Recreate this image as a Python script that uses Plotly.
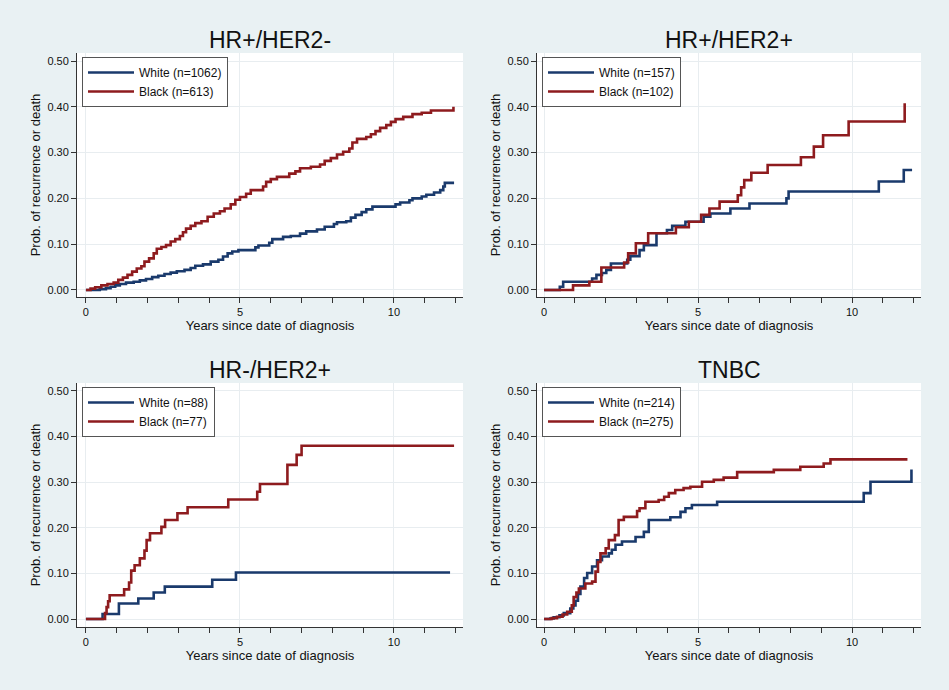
import plotly.graph_objects as go

# ---------------- data (years since diagnosis, cumulative probability) ----------------
panel_titles = ["HR+/HER2-", "HR+/HER2+", "HR-/HER2+", "TNBC"]
white_labels = ["White (n=1062)", "White (n=157)", "White (n=88)", "White (n=214)"]
black_labels = ["Black (n=613)", "Black (n=102)", "Black (n=77)", "Black (n=275)"]

# HR+/HER2-
p1_white_t = [0, 0.45, 0.65, 0.8, 0.95, 1.1, 1.3, 1.55, 1.75, 1.95, 2.15, 2.35, 2.55, 2.75, 2.95,
              3.2, 3.4, 3.55, 3.8, 4.05, 4.3, 4.45, 4.6, 4.75, 4.95, 5.5, 5.6, 5.95, 6.05, 6.4,
              6.65, 6.95, 7.15, 7.5, 7.75, 8.05, 8.15, 8.45, 8.6, 8.75, 8.95, 9.1, 9.3, 10.05,
              10.2, 10.5, 10.6, 10.9, 11.05, 11.3, 11.5, 11.6, 11.65, 11.95]
p1_white_v = [0, 0.002, 0.004, 0.007, 0.010, 0.013, 0.016, 0.018, 0.021, 0.024, 0.028, 0.031, 0.035,
              0.038, 0.041, 0.044, 0.048, 0.053, 0.056, 0.062, 0.066, 0.073, 0.080, 0.084, 0.087,
              0.093, 0.097, 0.103, 0.111, 0.116, 0.118, 0.123, 0.128, 0.132, 0.138, 0.144, 0.148,
              0.150, 0.158, 0.164, 0.170, 0.176, 0.182, 0.187, 0.191, 0.196, 0.200, 0.204, 0.208,
              0.213, 0.218, 0.226, 0.234, 0.234]
p1_black_t = [0, 0.15, 0.3, 0.5, 0.7, 0.9, 1.05, 1.2, 1.35, 1.5, 1.65, 1.8, 1.9, 2.05, 2.2, 2.3,
              2.45, 2.6, 2.75, 2.9, 3.05, 3.15, 3.25, 3.4, 3.55, 3.75, 3.95, 4.15, 4.35, 4.5, 4.7,
              4.85, 5.0, 5.2, 5.35, 5.75, 5.85, 6.0, 6.2, 6.6, 6.8, 6.95, 7.3, 7.6, 7.75, 7.95,
              8.15, 8.35, 8.55, 8.65, 8.8, 9.1, 9.25, 9.4, 9.55, 9.75, 9.9, 10.05, 10.3, 10.6,
              10.9, 11.2, 11.93]
p1_black_v = [0, 0.003, 0.006, 0.010, 0.013, 0.016, 0.022, 0.027, 0.033, 0.040, 0.047, 0.052, 0.062,
              0.069, 0.080, 0.090, 0.094, 0.098, 0.106, 0.111, 0.118, 0.126, 0.134, 0.140, 0.146,
              0.150, 0.160, 0.167, 0.172, 0.178, 0.187, 0.197, 0.203, 0.210, 0.218, 0.226, 0.236,
              0.242, 0.247, 0.254, 0.259, 0.266, 0.269, 0.274, 0.282, 0.288, 0.296, 0.302, 0.309,
              0.322, 0.330, 0.334, 0.340, 0.347, 0.354, 0.360, 0.367, 0.373, 0.378, 0.384, 0.387,
              0.392, 0.400]

# HR+/HER2+
p2_white_t = [0, 0.51, 0.62, 1.56, 1.7, 1.88, 2.02, 2.17, 2.7, 2.8, 3.1, 3.24, 3.65, 3.99, 4.16,
              4.59, 5.18, 5.4, 6.05, 6.67, 7.87, 7.94, 10.87, 11.68, 11.95]
p2_white_v = [0, 0.007, 0.018, 0.025, 0.033, 0.037, 0.044, 0.058, 0.066, 0.074, 0.087, 0.098,
              0.124, 0.131, 0.140, 0.149, 0.160, 0.167, 0.178, 0.189, 0.200, 0.215, 0.237, 0.262,
              0.262]
p2_black_t = [0, 0.94, 1.47, 1.86, 2.6, 2.73, 2.98, 3.38, 4.28, 4.7, 5.1, 5.37, 5.7, 6.29, 6.4,
              6.5, 6.73, 7.26, 8.34, 8.76, 9.06, 9.89, 11.71]
p2_black_v = [0, 0.010, 0.018, 0.049, 0.060, 0.080, 0.102, 0.124, 0.137, 0.149, 0.164, 0.178,
              0.193, 0.207, 0.224, 0.240, 0.256, 0.273, 0.290, 0.313, 0.338, 0.368, 0.408]

# HR-/HER2+
p3_white_t = [0, 0.54, 1.07, 1.7, 2.2, 2.56, 4.1, 4.87, 11.82]
p3_white_v = [0, 0.011, 0.034, 0.045, 0.058, 0.071, 0.086, 0.102, 0.102]
p3_black_t = [0, 0.62, 0.67, 0.72, 0.77, 1.24, 1.4, 1.47, 1.58, 1.75, 1.9, 1.97, 2.08, 2.45,
              2.57, 2.97, 3.3, 4.62, 5.56, 5.65, 6.54, 6.84, 7.0, 11.95]
p3_black_v = [0, 0.013, 0.026, 0.039, 0.052, 0.065, 0.080, 0.106, 0.118, 0.133, 0.150, 0.173,
              0.188, 0.202, 0.217, 0.232, 0.245, 0.262, 0.279, 0.296, 0.338, 0.360, 0.380, 0.380]

# TNBC
p4_white_t = [0, 0.2, 0.31, 0.5, 0.64, 0.85, 0.95, 1.02, 1.1, 1.18, 1.3, 1.4, 1.56, 1.72, 1.88,
              2.1, 2.2, 2.32, 2.53, 2.97, 3.24, 3.4, 4.1, 4.43, 4.59, 4.8, 5.62, 10.38, 10.6, 11.93]
p4_white_v = [0, 0.001, 0.004, 0.008, 0.013, 0.023, 0.030, 0.040, 0.055, 0.071, 0.090, 0.101,
              0.115, 0.129, 0.137, 0.144, 0.152, 0.163, 0.170, 0.180, 0.191, 0.217, 0.223, 0.235,
              0.243, 0.250, 0.257, 0.276, 0.301, 0.328]
p4_black_t = [0, 0.25, 0.42, 0.6, 0.75, 0.9, 0.96, 1.05, 1.13, 1.34, 1.56, 1.67, 1.75, 1.83, 2.0,
              2.1, 2.3, 2.42, 2.59, 3.02, 3.1, 3.29, 3.72, 3.9, 4.05, 4.26, 4.53, 4.75, 5.13,
              5.51, 5.83, 6.27, 7.46, 8.32, 9.08, 9.3, 11.8]
p4_black_v = [0, 0.002, 0.005, 0.010, 0.016, 0.030, 0.048, 0.058, 0.067, 0.078, 0.082, 0.104,
              0.125, 0.144, 0.155, 0.173, 0.184, 0.217, 0.224, 0.237, 0.243, 0.257, 0.261, 0.268,
              0.276, 0.283, 0.287, 0.290, 0.301, 0.305, 0.310, 0.322, 0.327, 0.334, 0.341, 0.350,
              0.350]

y_tick_vals = [0, 0.1, 0.2, 0.3, 0.4, 0.5]
x_tick_vals = [0, 5, 10]
x_title = "Years since date of diagnosis"
y_title = "Prob. of recurrence or death"

# ---------------- styling ----------------
W, H = 949, 690
FONT = "Arial, Liberation Sans, Helvetica, sans-serif"
NAVY = "#1a3a6c"
MAROON = "#8e1b1e"
BG = "#e9f1f3"

panels = [
    (p1_white_t, p1_white_v, p1_black_t, p1_black_v),
    (p2_white_t, p2_white_v, p2_black_t, p2_black_v),
    (p3_white_t, p3_white_v, p3_black_t, p3_black_v),
    (p4_white_t, p4_white_v, p4_black_t, p4_black_v),
]

# pixel geometry of each plot area: (left, right, top, bottom, x-range, y-range)
geom = [
    (77, 463, 53, 297, [-0.29, 12.24], [-0.0153, 0.5175]),
    (537, 921, 53, 297, [-0.23, 12.24], [-0.0153, 0.5175]),
    (77, 463, 383, 627, [-0.29, 12.24], [-0.0175, 0.5175]),
    (537, 921, 383, 627, [-0.23, 12.24], [-0.0175, 0.5175]),
]
title_y_px = [40, 40, 370, 370]

fig = go.Figure()
annotations = []
layout = {}
for i, (wt, wv, bt, bv) in enumerate(panels):
    k = i + 1
    xa = "x" if k == 1 else f"x{k}"
    ya = "y" if k == 1 else f"y{k}"
    lg = "legend" if k == 1 else f"legend{k}"
    fig.add_trace(go.Scatter(x=wt, y=wv, mode="lines", line=dict(color=NAVY, width=2.6, shape="hv"),
                             name=white_labels[i], xaxis=xa, yaxis=ya, legend=lg))
    fig.add_trace(go.Scatter(x=bt, y=bv, mode="lines", line=dict(color=MAROON, width=2.6, shape="hv"),
                             name=black_labels[i], xaxis=xa, yaxis=ya, legend=lg))
    left, right, top, bottom, xr, yr = geom[i]
    xdom = [left / W, right / W]
    ydom = [(H - bottom) / H, (H - top) / H]
    layout["xaxis" if k == 1 else f"xaxis{k}"] = dict(
        domain=xdom, range=xr, anchor=ya, tickvals=x_tick_vals, ticks="outside", ticklen=5,
        tickcolor="#333", showline=True, linecolor="#333", linewidth=1,
        showgrid=True, gridcolor="#e8edf0", gridwidth=1, zeroline=False,
        minor=dict(dtick=1, tick0=0, ticks="outside", ticklen=5, tickcolor="#333", showgrid=False),
        tickfont=dict(family=FONT, size=11, color="#111"),
        title=dict(text=x_title, font=dict(family=FONT, size=13, color="#111"), standoff=2),
        fixedrange=True,
    )
    layout["yaxis" if k == 1 else f"yaxis{k}"] = dict(
        domain=ydom, range=yr, anchor=xa, tickvals=y_tick_vals, tickformat=".2f",
        ticks="outside", ticklen=5, tickcolor="#333", showline=True, linecolor="#333", linewidth=1,
        showgrid=True, gridcolor="#e8edf0", gridwidth=1, zeroline=False,
        tickfont=dict(family=FONT, size=11, color="#111"),
        title=dict(text=y_title, font=dict(family=FONT, size=13, color="#111"), standoff=3),
        fixedrange=True,
    )
    layout[lg] = dict(
        x=(left + 5) / W, y=(H - top - 4) / H, xanchor="left", yanchor="top",
        bgcolor="white", bordercolor="#555", borderwidth=1,
        font=dict(family=FONT, size=12, color="#111"), tracegroupgap=0,
        itemwidth=46,
    )
    annotations.append(dict(
        text=panel_titles[i], x=(left + right) / 2 / W, y=(H - title_y_px[i]) / H,
        xref="paper", yref="paper", xanchor="center", yanchor="middle", showarrow=False,
        font=dict(family=FONT, size=23, color="#111"),
    ))

fig.update_layout(
    width=W, height=H, paper_bgcolor=BG, plot_bgcolor="white",
    margin=dict(l=0, r=0, t=0, b=0), annotations=annotations, showlegend=True,
    **layout,
)
fig.write_html(
    "out.html",
    config={"displayModeBar": False, "staticPlot": True},
    post_script="document.body.style.margin='0';document.body.style.background='" + BG + "';",
)
